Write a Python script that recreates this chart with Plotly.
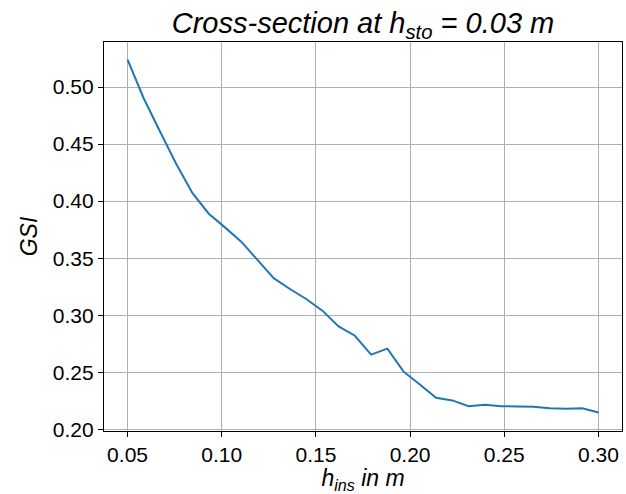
import numpy as np
import plotly.graph_objects as go

# insulation height samples (m)
h_ins = np.linspace(0.05, 0.30, 30)

# GSI along the cross-section at h_sto = 0.03 m
gsi = [
    0.524, 0.490, 0.461, 0.4325, 0.407, 0.389, 0.377, 0.3645, 0.3485, 0.3325,
    0.323, 0.3142, 0.304, 0.2902, 0.282, 0.2655, 0.2707, 0.2505, 0.2392, 0.2276,
    0.2253, 0.2203, 0.2215, 0.2203, 0.2200, 0.2197, 0.2185, 0.2180, 0.2185, 0.2148,
]

x_ticks = [0.05, 0.10, 0.15, 0.20, 0.25, 0.30]
y_ticks = [0.20, 0.25, 0.30, 0.35, 0.40, 0.45, 0.50]

FONT = "Liberation Sans, Arial, sans-serif"

fig = go.Figure(
    go.Scatter(
        x=h_ins,
        y=gsi,
        mode="lines",
        line=dict(color="#1f77b4", width=2),
        showlegend=False,
    )
)

axis_common = dict(
    showline=True,
    mirror=True,
    linecolor="black",
    linewidth=1.2,
    showgrid=True,
    gridcolor="#b0b0b0",
    gridwidth=1.1,
    zeroline=False,
    ticks="outside",
    ticklen=5,
    tickwidth=1.2,
    tickcolor="black",
    tickfont=dict(family=FONT, size=21, color="black"),
    tickformat=".2f",
)

fig.update_xaxes(
    range=[0.0375, 0.3125],
    tickvals=x_ticks,
    title=dict(
        text="<i>h<sub>ins</sub> in m</i>",
        font=dict(family=FONT, size=23, color="black"),
        standoff=6,
    ),
    **axis_common,
)
fig.update_yaxes(
    range=[0.1985, 0.5395],
    tickvals=y_ticks,
    title=dict(
        text="<i>GSI</i>",
        font=dict(family=FONT, size=23, color="black"),
        standoff=8,
    ),
    **axis_common,
)

fig.update_layout(
    width=626,
    height=494,
    margin=dict(l=104, r=4, t=42, b=63),
    paper_bgcolor="white",
    plot_bgcolor="white",
    title=dict(
        text="<i>Cross-section at h<sub>sto</sub> = 0.03 m</i>",
        font=dict(family=FONT, size=29, color="black"),
        x=0.5,
        xref="paper",
        xanchor="center",
        y=1 - 23 / 494,
        yref="container",
        yanchor="middle",
    ),
)

fig.write_html("out.html")
